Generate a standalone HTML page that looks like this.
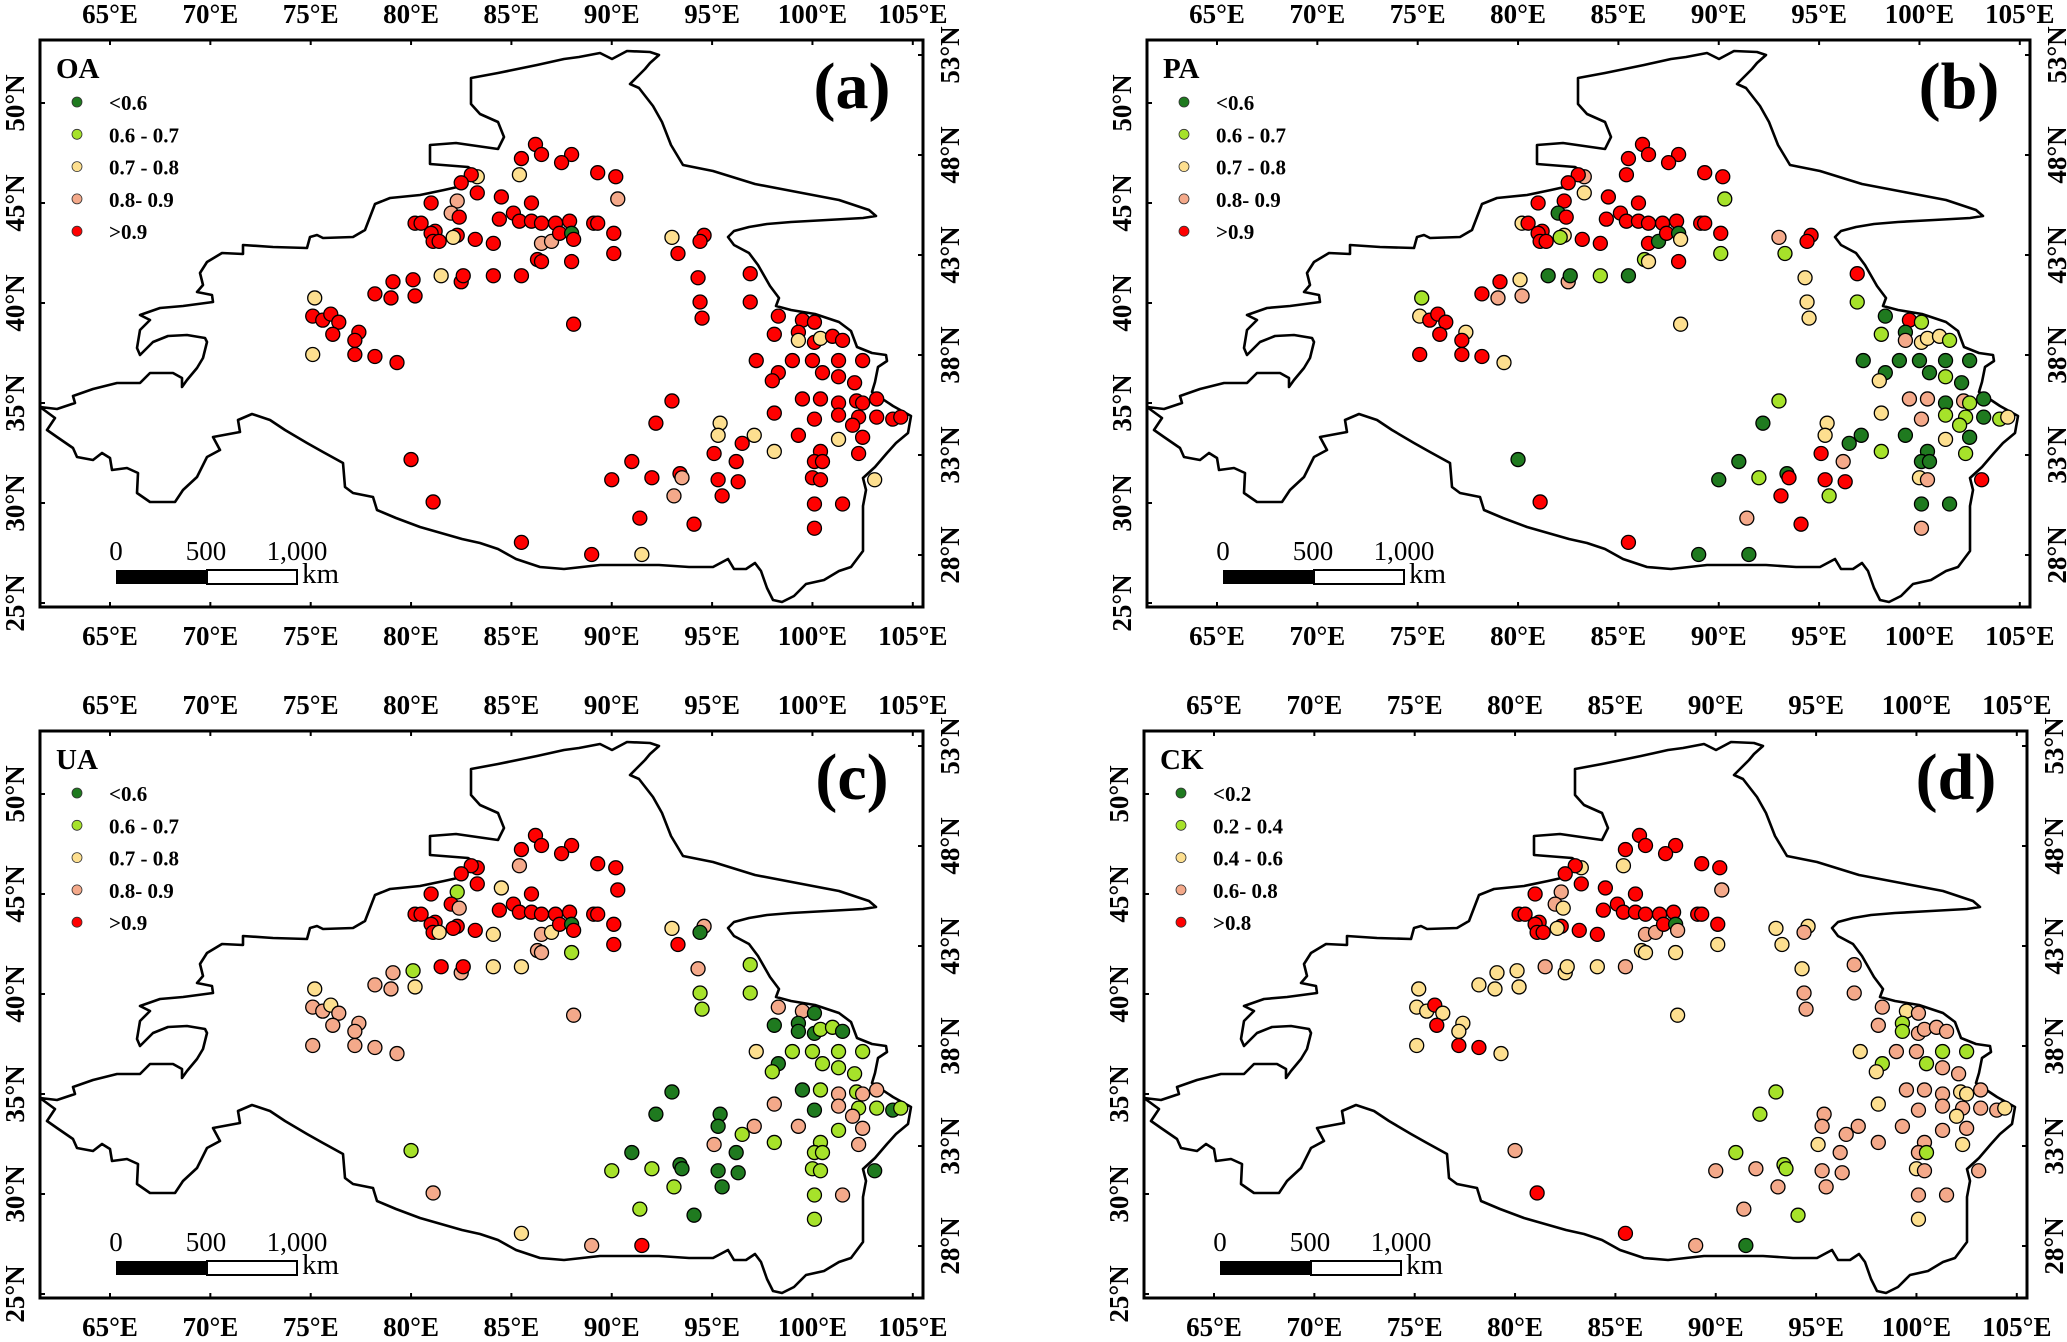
<!DOCTYPE html>
<html><head><meta charset="utf-8"><style>
html,body{margin:0;padding:0;background:#fff;}
svg text{font-family:"Liberation Serif",serif;}
</style></head><body>
<svg id="fig" xmlns="http://www.w3.org/2000/svg" width="2067" height="1337" viewBox="0 0 2067 1337" font-family="Liberation Serif">
<defs>
<path id="region" fill="none" stroke="#000" stroke-width="2.6" stroke-linejoin="round" d="M40,407 L57,409 L75,403 L73,396 L93,389 L117,383 L140,383 L150,373 L173,373 L182,378 L182,387 L187,380 L197,368 L203,358 L207,342 L205,338 L187,335 L168,336 L153,342 L140,355 L137,348 L140,330 L150,320 L140,315 L160,308 L183,306 L213,302 L212,295 L197,292 L203,285 L200,273 L207,262 L222,253 L243,254 L243,245 L273,247 L307,248 L310,237 L317,235 L323,238 L353,237 L365,230 L375,204 L390,198 L420,195 L444,190 L462,186 L471,169 L468,167 L430,164 L430,145 L456,143 L498,149 L504,137 L498,122 L480,114 L471,104 L471,78 L498,73 L537,65 L564,59 L579,57 L600,53 L612,59 L627,51 L650,52 L659,55 L650,63 L645,69 L636,78 L630,84 L639,88 L653,106 L662,122 L671,145 L683,165 L713,171 L755,184 L797,192 L839,200 L869,210 L876,216 L863,218 L827,220 L791,222 L767,224 L749,227 L734,231 L728,237 L734,245 L749,253 L758,265 L770,286 L779,298 L776,306 L791,310 L815,314 L839,322 L851,331 L857,347 L872,353 L886,355 L887,361 L878,367 L875,382 L872,392 L893,406 L911,416 L908,433 L896,443 L887,453 L875,467 L863,478 L866,490 L863,506 L863,531 L863,551 L851,567 L839,571 L824,580 L806,584 L794,596 L782,602 L773,600 L767,588 L761,571 L755,563 L746,569 L734,569 L728,559 L713,567 L689,567 L659,565 L600,565 L564,569 L540,567 L516,559 L498,549 L480,543 L462,539 L441,533 L420,527 L396,518 L377,510 L373,497 L353,493 L345,487 L343,463 L323,452 L307,443 L285,430 L270,420 L252,414 L238,420 L240,432 L213,437 L220,450 L207,457 L197,477 L183,490 L175,502 L150,502 L137,493 L138,473 L127,468 L112,470 L110,458 L102,453 L93,460 L77,457 L73,448 L57,437 L47,430 L55,418 Z"/>
</defs>
</svg>
<script>
// Station locations (degrees)
const lon = [86.2,85.5,86.5,88.0,87.5,89.3,90.2,85.4,83.3,83.0,
82.5,83.3,84.5,86.0,90.3,81.0,82.3,82.0,82.4,85.1,
84.4,85.4,86.0,86.5,87.2,87.9,89.1,89.3,80.2,80.5,
81.2,81.0,82.3,82.1,81.1,81.4,83.2,84.1,86.5,87.0,
87.4,88.0,88.1,90.1,93.0,94.6,94.4,93.3,90.1,86.3,
86.5,88.0,81.5,82.5,82.6,84.1,85.5,79.1,80.1,80.2,
78.2,79.0,75.2,75.1,75.6,76.0,76.4,76.1,77.4,77.2,
75.1,77.2,78.2,79.3,88.1,94.3,94.4,94.5,96.9,96.9,
98.3,99.5,100.1,98.1,99.3,99.3,100.1,100.4,101.0,101.5,
97.2,99.0,100.0,101.3,102.5,98.3,98.0,100.5,101.3,102.1,
99.5,100.4,101.3,102.2,102.5,103.2,98.1,100.1,101.3,102.3,
103.2,104.0,104.4,93.0,92.2,95.4,95.3,97.1,96.5,98.1,
99.3,102.0,102.5,101.3,95.1,96.2,100.4,100.1,100.5,102.3,
91.0,93.4,93.5,92.0,90.0,95.3,96.3,100.0,100.4,103.1,
93.1,95.5,91.4,94.1,100.1,101.5,100.1,80.0,81.1,85.5,
89.0,91.5];
const lat = [47.9,47.2,47.4,47.4,47.0,46.5,46.3,46.4,46.3,46.4,
46.0,45.5,45.3,45.0,45.2,45.0,45.1,44.5,44.3,44.5,
44.2,44.1,44.1,44.0,44.0,44.1,44.0,44.0,44.0,44.0,
43.6,43.5,43.4,43.3,43.1,43.1,43.2,43.0,43.0,43.1,
43.5,43.5,43.2,43.5,43.3,43.4,43.1,42.5,42.5,42.2,
42.1,42.1,41.4,41.1,41.4,41.4,41.4,41.1,41.2,40.4,
40.5,40.3,40.3,39.4,39.2,39.5,39.1,38.5,38.6,38.2,
37.5,37.5,37.4,37.1,39.0,41.3,40.1,39.3,41.5,40.1,
39.4,39.2,39.1,38.5,38.6,38.2,38.1,38.3,38.4,38.2,
37.2,37.2,37.2,37.2,37.2,36.6,36.2,36.6,36.4,36.1,
35.3,35.3,35.1,35.2,35.1,35.3,34.6,34.3,34.5,34.4,
34.4,34.3,34.4,35.2,34.1,34.1,33.5,33.5,33.1,32.7,
33.5,34.0,33.4,33.3,32.6,32.2,32.7,32.2,32.2,32.6,
32.2,31.6,31.4,31.4,31.3,31.3,31.2,31.4,31.3,31.3,
30.5,30.5,29.4,29.1,30.1,30.1,28.9,32.3,30.2,28.2,
27.6,27.6];
// Class per station (G lowest, L, Y, O, R highest)
const classOA = "RRRRRRRYYR"+"RRRROROORR"+"RRRRRRRRRR"+"RRRYRRRROO"+"RGRRYRRRRR"+"RRYRRRRRRR"+"RRYRRRRRRR"+"YRRRRRRRRR"+"RRRRRYRYRR"+"RRRRRRRRRR"+"RRRRRRRRRR"+"RRRRRYYYRY"+"RRRYRRRRRR"+"RRORRRRRRY"+"ORRRRRRRRR"+"RY";
const classPA = "RRRRRRRROR"+"RYRRLRRGRR"+"RRRRRRRRYR"+"RRYLRRRRRG"+"RGYRORRLLL"+"YRGOGLGRYO"+"ROLYRRRRYR"+"RRRYYYYYRL"+"GRLLGOYYYL"+"GGGGGGYGLG"+"OOGOLGYOLL"+"GLYLGYYGGL"+"GLGYROGGGL"+"GGRLGRRYOR"+"RLORGGOGRR"+"GG";
const classUA = "RRRRRRRORR"+"RRYRRRLROR"+"RRRRRRRRRR"+"RRRRRYRYOY"+"RGRRYOGRRO"+"OLRORYYOLY"+"OOYOOYOOOO"+"OOOOOOLLLL"+"OOGGGGGLLG"+"YLLLLGLLLL"+"GLOLOOOGOL"+"LGLGGGGOLL"+"OOOLOGLLLO"+"GGGLLGGLLG"+"LGLGLOLLOY"+"OR";
const classCK = "RRRRRRRYYR"+"RRRROROOYR"+"RRRRRRRRRR"+"RRRYRRRROO"+"RGORYYOYYY"+"YYOYYYOYYY"+"YYYYYRYRYY"+"YRRYYYOOOO"+"OYOOLLOOOO"+"YOOLLLYLOO"+"OOOYYOYOOO"+"OOYLLOOOOO"+"OYOOYOOOLY"+"LLLOOOOYOO"+"OOOLOOYORR"+"OG";
const lonTicks = [65,70,75,80,85,90,95,100,105];
const latLeftTicks = [50,45,40,35,30,25];
const latRightTicks = [53,48,43,38,33,28];
const legendA = ["<0.6","0.6 - 0.7","0.7 - 0.8","0.8- 0.9",">0.9"];
const legendCK = ["<0.2","0.2 - 0.4","0.4 - 0.6","0.6- 0.8",">0.8"];

const COLORS = {G:"#1f7a1f", L:"#a6e22a", Y:"#fddf8f", O:"#f4a98a", R:"#ff0000"};
const ORDER = ["G","L","Y","O","R"];
const panels = [
  {title:"OA", tag:"(a)", cls:classOA, leg:legendA, ox:0, oy:0},
  {title:"PA", tag:"(b)", cls:classPA, leg:legendA, ox:1107, oy:0},
  {title:"UA", tag:"(c)", cls:classUA, leg:legendA, ox:0, oy:691},
  {title:"CK", tag:"(d)", cls:classCK, leg:legendCK, ox:1104, oy:691}
];
const NS = "http://www.w3.org/2000/svg";
const svg = document.getElementById("fig");
function mk(tag, attrs, parent){
  const e = document.createElementNS(NS, tag);
  for (const k in attrs) e.setAttribute(k, attrs[k]);
  if (tag === "text") { e.setAttribute("font-family", "Liberation Serif"); e.style.fontFamily = '"Liberation Serif", serif'; }
  (parent||svg).appendChild(e);
  return e;
}
function xScale(lo){ return 110 + (lo-65)*20.07; }
function yScale(la){ return 102 + (50-la)*20.2; }
function latLeftY(la){ return 103 + (50-la)*20; }
function latRightY(la){ return 55 + (53-la)*20; }

panels.forEach((p) => {
  const g = mk("g", {transform:`translate(${p.ox},${p.oy})`});
  
  
  const fr = mk("rect", {x:40, y:40, width:883, height:567, fill:"#fff", stroke:"#000", "stroke-width":3}, g);
  
  
  const u = mk("use", {href:"#region"}, g);
  
  
  lonTicks.forEach(t => {
    const x = xScale(t);
    mk("line", {x1:x, y1:40, x2:x, y2:45, stroke:"#000", "stroke-width":2}, g);
    mk("line", {x1:x, y1:602, x2:x, y2:607, stroke:"#000", "stroke-width":2}, g);
    const t1 = mk("text", {x:x, y:23, "text-anchor":"middle", "font-size":27, "font-weight":"bold"}, g);
    t1.textContent = t + "°E";
    
    
    const t2 = mk("text", {x:x, y:645, "text-anchor":"middle", "font-size":27, "font-weight":"bold"}, g);
    t2.textContent = t + "°E";
    
    
  });
  latLeftTicks.forEach(t => {
    const y = latLeftY(t);
    mk("line", {x1:40, y1:y, x2:45, y2:y, stroke:"#000", "stroke-width":2}, g);
    const tx = mk("text", {x:0, y:0, transform:`translate(24,${y}) rotate(-90)`, "text-anchor":"middle", "font-size":27, "font-weight":"bold"}, g);
    tx.textContent = t + "°N";
    
    
  });
  latRightTicks.forEach(t => {
    const y = latRightY(t);
    mk("line", {x1:918, y1:y, x2:923, y2:y, stroke:"#000", "stroke-width":2}, g);
    const tx = mk("text", {x:0, y:0, transform:`translate(959,${y}) rotate(-90)`, "text-anchor":"middle", "font-size":27, "font-weight":"bold"}, g);
    tx.textContent = t + "°N";
    
    
  });
  const ti = mk("text", {x:56, y:78, "font-size":29, "font-weight":"bold"}, g);
  ti.textContent = p.title;
  
  
  const tg = mk("text", {x:852, y:108, "text-anchor":"middle", "font-size":66, "font-weight":"bold"}, g);
  tg.textContent = p.tag;
  
  
  p.leg.forEach((lab, i) => {
    const y = 102 + i*32.3;
    const d = mk("circle", {cx:77, cy:y, r:5, fill:COLORS[ORDER[i]], stroke:"#333", "stroke-width":0.8}, g);
    
    
    const lt = mk("text", {x:109, y:y+8, "font-size":21, "font-weight":"bold"}, g);
    lt.textContent = lab;
    
    
  });
  const sb = mk("g", {}, g);
  
  
  mk("rect", {x:116, y:570, width:91, height:14, fill:"#000"}, sb);
  mk("rect", {x:207, y:570, width:90, height:14, fill:"#fff", stroke:"#000", "stroke-width":2}, sb);
  [["0",116],["500",206],["1,000",297]].forEach(s => {
    const st = mk("text", {x:s[1], y:560, "text-anchor":"middle", "font-size":27}, sb);
    st.textContent = s[0];
  });
  const km = mk("text", {x:302, y:583, "font-size":29}, sb);
  km.textContent = "km";
  const sg = mk("g", {}, g);
  
  
  for (let i = 0; i < lon.length; i++) {
    const c = mk("circle", {cx:xScale(lon[i]), cy:yScale(lat[i]), r:7, fill:COLORS[p.cls[i]] || "#f00", stroke:"#000", "stroke-width":1.3}, sg);
    
    
  }
});
</script>
</body></html>
